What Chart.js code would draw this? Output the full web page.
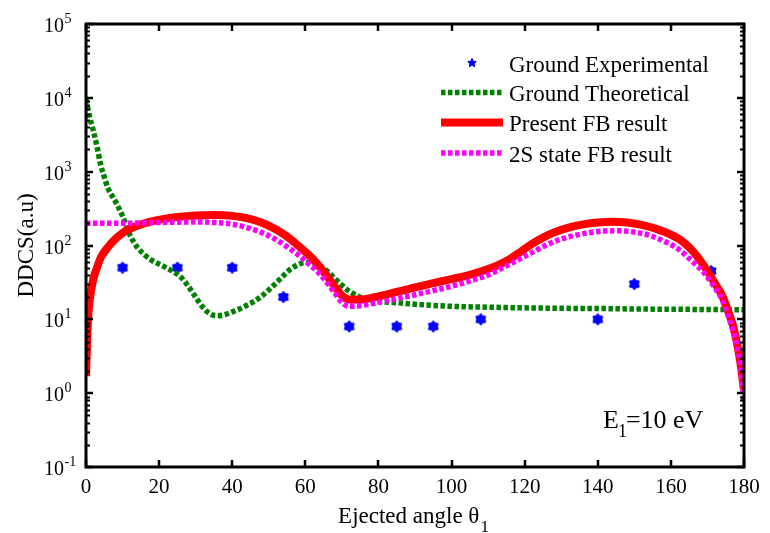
<!DOCTYPE html>
<html>
<head>
<meta charset="utf-8">
<script src="https://cdn.jsdelivr.net/npm/chart.js@4"></script>
<style>
  html, body { margin: 0; padding: 0; background: #ffffff; }
  canvas { display: block; }
</style>
</head>
<body>
<canvas id="ddcs" width="770" height="533"></canvas>
<script>
// Ejected angle ticks (degrees) and log decades of the DDCS axis
const angleTicks = [0, 20, 40, 60, 80, 100, 120, 140, 160, 180];
const decadeExponents = [-1, 0, 1, 2, 3, 4, 5];

// Ground state, experiment
const expAngles = [10, 25, 40, 54, 72, 85, 95, 108, 140, 150, 171];
const expDDCS   = [50, 50, 50, 20, 8, 8, 8, 10, 10, 30, 45];

// Ground state, theory
const theoAngles = [0, 1, 2, 3, 4, 5, 6, 8, 10, 12, 14, 16, 18, 20, 22, 24, 26, 28, 30, 32, 34, 36, 38, 40,
                    42, 44, 46, 48, 50, 52, 54, 56, 58, 60, 62, 64, 66, 68, 70, 72, 74, 76, 78, 80, 85, 90,
                    100, 110, 120, 130, 140, 150, 160, 170, 180];
const theoDDCS   = [9500, 5500, 3600, 2200, 1250, 850, 600, 400, 250, 140, 95, 75, 63, 56, 50, 44, 37, 28, 20,
                    14.5, 11.8, 11.2, 11.6, 12.6, 13.8, 15.5, 17.5, 20.5, 25, 31, 39, 48, 55, 59, 58, 53, 45,
                    36, 29, 24, 21, 19, 18, 17.5, 16.8, 16, 15, 14.6, 14.3, 14.1, 14, 13.8, 13.7, 13.6, 13.5];

// Present first Born result
const fbAngles = [0, 0.5, 1, 2, 3, 4, 6, 8, 10, 12, 15, 18, 21, 25, 30, 35, 40, 44, 48, 52, 55, 58, 60, 62,
                  64, 66, 68, 70, 72, 75, 80, 85, 90, 95, 100, 105, 110, 113, 116, 119, 122, 125, 128, 132,
                  136, 140, 144, 148, 152, 156, 160, 163, 166, 168, 170, 172, 174, 176, 177, 178, 179, 180];
const fbDDCS   = [1.7, 9, 18, 35, 50, 68, 95, 122, 148, 168, 192, 212, 228, 243, 254, 258, 252, 235, 205,
                  165, 132, 100, 82, 66, 51, 38, 28, 21, 18.5, 18.5, 20.5, 23.5, 27, 31, 35, 40, 48, 55, 66,
                  83, 105, 128, 150, 175, 193, 205, 210, 205, 190, 168, 140, 115, 84, 63, 45, 31, 21, 11.5,
                  8.2, 5, 2.6, 1.1];

// 2S state first Born result
const s2Angles = [0, 5, 10, 15, 20, 25, 30, 35, 40, 44, 48, 52, 55, 58, 60, 62, 64, 66, 68, 70, 72, 75, 80,
                  85, 90, 95, 100, 105, 110, 114, 118, 122, 126, 130, 134, 138, 142, 146, 150, 154, 158,
                  162, 166, 169, 172, 174, 176, 177, 178, 179, 180];
const s2DDCS   = [200, 200, 200, 202, 205, 207, 208, 205, 195, 175, 150, 120, 96, 75, 62, 51, 41, 31, 23,
                  17, 15, 15.3, 17, 19, 21.5, 24.5, 28, 33, 40, 50, 63, 80, 102, 122, 138, 150, 157, 158,
                  152, 138, 115, 90, 60, 43, 27, 18.5, 10, 7, 4.5, 2.5, 0.8];

const seriesNames = ['Ground Experimental', 'Ground Theoretical', 'Present FB result', '2S state FB result'];

const SERIF = '"Liberation Serif", "Times New Roman", Times, serif';
const BLUE = '#0000ff', GREEN = '#008000', RED = '#ff0000', MAGENTA = '#ff00ff';

function toPoints(xs, ys) { return xs.map((x, i) => ({ x: x, y: ys[i] })); }

function starPath(ctx, cx, cy, outer, inner, points) {
  ctx.beginPath();
  for (let k = 0; k < points * 2; k++) {
    const r = k % 2 === 0 ? outer : inner;
    const a = -Math.PI / 2 + k * Math.PI / points;
    const px = cx + r * Math.cos(a), py = cy + r * Math.sin(a);
    if (k === 0) ctx.moveTo(px, py); else ctx.lineTo(px, py);
  }
  ctx.closePath();
}

// filled star marker for the measured points
function makeStar(size, outer, inner, points) {
  const c = document.createElement('canvas');
  c.width = size; c.height = size;
  const g = c.getContext('2d');
  g.fillStyle = BLUE; g.strokeStyle = BLUE; g.lineWidth = 1;
  starPath(g, size / 2, size / 2, outer, inner, points);
  g.fill(); g.stroke();
  return c;
}
const starMarker = makeStar(14, 5.8, 4.0, 6);

const frameAndText = {
  id: 'frameAndText',
  afterDraw(chart) {
    const ctx = chart.ctx;
    const xs = chart.scales.x, ys = chart.scales.y;
    const L = chart.chartArea.left, R = chart.chartArea.right;
    const T = chart.chartArea.top, B = chart.chartArea.bottom;
    ctx.save();

    // box
    ctx.strokeStyle = '#000'; ctx.lineWidth = 3;
    ctx.strokeRect(L, T, R - L, B - T);

    // x ticks, inward on bottom and top
    ctx.lineWidth = 2.5;
    ctx.beginPath();
    angleTicks.forEach(v => {
      const px = Math.round(xs.getPixelForValue(v));
      ctx.moveTo(px, B); ctx.lineTo(px, B - 7);
      ctx.moveTo(px, T); ctx.lineTo(px, T + 7);
    });
    ctx.stroke();

    // y ticks: decades and log minors, inward on left and right
    ctx.beginPath();
    decadeExponents.forEach(e => {
      const py = Math.round(ys.getPixelForValue(Math.pow(10, e)));
      ctx.moveTo(L, py); ctx.lineTo(L + 7, py);
      ctx.moveTo(R, py); ctx.lineTo(R - 7, py);
    });
    ctx.stroke();
    ctx.lineWidth = 2;
    ctx.beginPath();
    decadeExponents.slice(0, -1).forEach(e => {
      for (let m = 2; m <= 9; m++) {
        const py = Math.round(ys.getPixelForValue(m * Math.pow(10, e))) + 0.5;
        ctx.moveTo(L, py); ctx.lineTo(L + 4, py);
        ctx.moveTo(R, py); ctx.lineTo(R - 4, py);
      }
    });
    ctx.stroke();

    ctx.fillStyle = '#000';
    ctx.textBaseline = 'alphabetic';

    // y tick labels 10^n
    decadeExponents.forEach(e => {
      const py = ys.getPixelForValue(Math.pow(10, e));
      ctx.font = '20px ' + SERIF;
      ctx.textAlign = 'left';
      ctx.fillText('10', 44, py + 8);
      const w = ctx.measureText('10').width;
      ctx.font = '14px ' + SERIF;
      ctx.fillText(String(e), 44 + w + 0.5, py - 1);
    });

    // x tick labels
    ctx.font = '21px ' + SERIF;
    ctx.textAlign = 'center';
    angleTicks.forEach(v => {
      ctx.fillText(String(v), xs.getPixelForValue(v), 493);
    });

    // x title with subscript
    ctx.textAlign = 'left';
    ctx.font = '23px ' + SERIF;
    const xMain = 'Ejected angle \u03b8';
    const wMain = ctx.measureText(xMain).width;
    ctx.font = '17px ' + SERIF;
    const wSub = ctx.measureText('1').width;
    const x0 = (L + R) / 2 - (wMain + wSub) / 2 - 2;
    ctx.font = '23px ' + SERIF;
    ctx.fillText(xMain, x0, 523);
    ctx.font = '17px ' + SERIF;
    ctx.fillText('1', x0 + wMain + 1, 532);

    // y title
    ctx.save();
    ctx.translate(33, (T + B) / 2);
    ctx.rotate(-Math.PI / 2);
    ctx.font = '23px ' + SERIF;
    ctx.textAlign = 'center';
    ctx.fillText('DDCS(a.u)', 0, 0);
    ctx.restore();

    // energy annotation
    ctx.textAlign = 'left';
    ctx.font = '26px ' + SERIF;
    ctx.fillText('E', 603, 428);
    const wE = ctx.measureText('E').width;
    ctx.font = '18px ' + SERIF;
    ctx.fillText('1', 603 + wE - 1, 437);
    const w1 = ctx.measureText('1').width;
    ctx.font = '26px ' + SERIF;
    ctx.fillText('=10 eV', 603 + wE + w1 - 2, 428);

    // legend
    const rows = [63, 92.5, 122.5, 153];
    const sx0 = 441, sx1 = 503, tx = 509;
    const ds = chart.data.datasets;
    rows.forEach((ry, i) => {
      const d = ds[i];
      if (i === 0) {
        ctx.fillStyle = BLUE; ctx.strokeStyle = BLUE; ctx.lineWidth = 1;
        starPath(ctx, (sx0 + sx1) / 2, ry, 4.5, 2.2, 5);
        ctx.fill(); ctx.stroke();
      } else {
        ctx.strokeStyle = d.borderColor;
        ctx.lineWidth = d.borderWidth;
        ctx.setLineDash(d.borderDash || []);
        ctx.lineCap = 'butt';
        ctx.beginPath(); ctx.moveTo(sx0, ry); ctx.lineTo(sx1, ry); ctx.stroke();
        ctx.setLineDash([]);
      }
      ctx.fillStyle = '#000';
      ctx.font = '23px ' + SERIF;
      ctx.fillText(seriesNames[i], tx, ry + 8.5);
    });

    ctx.restore();
  }
};

new Chart(document.getElementById('ddcs'), {
  type: 'scatter',
  data: {
    datasets: [
      {
        label: seriesNames[0], data: toPoints(expAngles, expDDCS),
        pointStyle: starMarker, pointRadius: 7, showLine: false, order: 4
      },
      {
        label: seriesNames[1], data: toPoints(theoAngles, theoDDCS),
        showLine: true, pointRadius: 0, borderColor: GREEN, borderWidth: 5.5,
        borderDash: [4.5, 2.5], borderCapStyle: 'butt', cubicInterpolationMode: 'monotone', order: 3
      },
      {
        label: seriesNames[2], data: toPoints(fbAngles, fbDDCS),
        showLine: true, pointRadius: 0, borderColor: RED, borderWidth: 8,
        cubicInterpolationMode: 'monotone', order: 2
      },
      {
        label: seriesNames[3], data: toPoints(s2Angles, s2DDCS),
        showLine: true, pointRadius: 0, borderColor: MAGENTA, borderWidth: 5.5,
        borderDash: [4.5, 2.5], borderCapStyle: 'butt', cubicInterpolationMode: 'monotone', order: 1
      }
    ]
  },
  options: {
    responsive: false,
    animation: false,
    devicePixelRatio: 1,
    layout: { padding: { top: 24, right: 26, left: 0, bottom: 0 } },
    plugins: { legend: { display: false }, tooltip: { enabled: false } },
    scales: {
      x: {
        type: 'linear', min: 0, max: 180,
        grid: { display: false }, border: { display: false },
        ticks: { display: false },
        afterFit(scale) { scale.height = 66; }
      },
      y: {
        type: 'logarithmic', min: 0.1, max: 100000,
        grid: { display: false }, border: { display: false },
        ticks: { display: false },
        afterFit(scale) { scale.width = 86; }
      }
    }
  },
  plugins: [frameAndText]
});
</script>
</body>
</html>
